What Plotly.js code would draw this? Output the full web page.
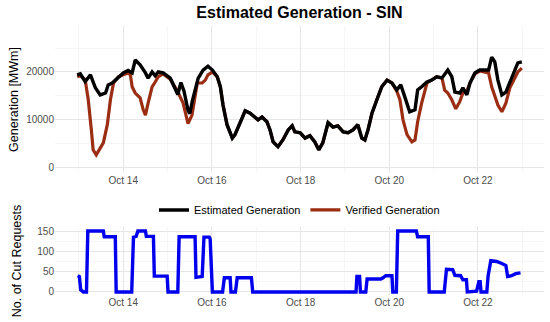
<!DOCTYPE html>
<html><head><meta charset="utf-8">
<script src="https://cdn.plot.ly/plotly-3.0.1.min.js"></script>
<style>html,body{margin:0;padding:0;background:#fff}#chart{width:550px;height:322px}</style>
</head><body><div id="chart"></div>
<script>
// Day of October (fractional) and values
const estDays = [12.96,13.03,13.14,13.26,13.37,13.48,13.60,13.66,13.75,13.87,14.00,14.11,14.20,14.27,14.38,14.50,14.56,14.65,14.72,14.79,14.90,15.06,15.17,15.23,15.30,15.37,15.46,15.50,15.56,15.69,15.80,15.91,16.01,16.12,16.19,16.25,16.34,16.46,16.52,16.64,16.75,16.86,16.97,17.04,17.13,17.24,17.31,17.38,17.49,17.60,17.72,17.81,17.87,17.99,18.10,18.21,18.32,18.41,18.50,18.62,18.73,18.84,18.96,19.07,19.18,19.29,19.38,19.45,19.52,19.61,19.72,19.83,19.95,20.06,20.17,20.26,20.35,20.46,20.58,20.64,20.73,20.85,20.96,21.07,21.19,21.25,21.32,21.41,21.48,21.59,21.66,21.75,21.82,21.93,22.04,22.15,22.24,22.31,22.38,22.45,22.54,22.63,22.72,22.83,22.90,22.99];
const estValues = [19400,19600,18000,19400,16700,15200,15600,17300,17700,18700,19800,20300,19800,22500,21500,19800,18700,20000,19200,20000,19800,18700,16500,15300,17800,16000,12000,11300,14000,18700,20400,21200,20400,19000,16900,13100,9000,6200,6900,9600,11900,11400,10600,10000,10600,9600,7900,5400,4400,5800,7900,8750,7500,7300,6200,6700,5400,3750,5200,9400,8500,8750,7500,7300,7900,9000,6200,5800,7900,11400,14200,16900,18300,17700,16250,17300,14800,11700,12100,16250,16900,17900,18300,19000,18750,19400,20400,19000,15800,15600,16700,15200,17700,19800,20400,20400,20400,23100,22100,18300,15200,15800,17700,20000,21900,22100];

const verDays = [12.96,13.03,13.14,13.21,13.28,13.32,13.39,13.48,13.55,13.64,13.71,13.78,13.89,14.00,14.11,14.16,14.20,14.27,14.38,14.45,14.50,14.56,14.65,14.72,14.79,14.90,15.06,15.22,15.35,15.46,15.55,15.67,15.78,15.85,15.91,16.01,16.12,16.19,16.25,16.34,16.46,16.52,16.64,16.75,16.86,16.97,17.04,17.13,17.24,17.31,17.38,17.49,17.60,17.72,17.81,17.87,17.99,18.10,18.21,18.32,18.41,18.50,18.62,18.73,18.84,18.96,19.07,19.18,19.29,19.38,19.45,19.52,19.61,19.72,19.83,19.95,20.06,20.17,20.24,20.31,20.40,20.51,20.58,20.64,20.73,20.85,20.96,21.07,21.19,21.25,21.32,21.41,21.50,21.59,21.66,21.75,21.82,21.93,22.04,22.15,22.24,22.31,22.38,22.45,22.54,22.63,22.72,22.83,22.90,22.99];
const verValues = [19000,19200,18400,14200,7900,3750,2700,4200,5200,9000,14200,17700,19000,19400,19800,19400,16900,15600,14600,12100,11000,13500,16900,17900,19000,19600,18500,16000,13500,9200,11000,17700,17700,18300,19400,20000,19000,16900,13100,9000,6200,6900,9600,11900,11400,10600,10000,10600,9600,7900,5400,4400,5800,7900,8750,7500,7300,6200,6700,5400,3750,5200,9400,8500,8750,7500,7300,7900,9000,6200,5800,7900,11400,14200,16900,18300,17700,16000,14200,10000,6900,5400,5800,9600,13500,17700,18300,19000,18700,16200,15600,14200,12300,13800,15600,16000,17700,19600,20200,20000,19800,16900,14800,13100,11700,13500,16700,18700,20000,20800];

const cutDays = [12.97,13.01,13.04,13.10,13.17,13.20,13.55,13.57,13.82,13.84,14.19,14.23,14.29,14.33,14.50,14.52,14.68,14.70,14.99,15.01,15.23,15.26,15.62,15.64,15.78,15.82,15.94,15.96,16.01,16.24,16.28,16.41,16.43,16.53,16.57,16.89,16.92,19.25,19.27,19.33,19.35,19.47,19.50,19.81,19.86,19.92,20.06,20.08,20.16,20.19,20.61,20.64,20.88,20.90,21.24,21.29,21.43,21.48,21.61,21.66,21.74,21.76,21.97,22.02,22.05,22.07,22.20,22.23,22.29,22.42,22.54,22.63,22.67,22.76,22.85,22.96];
const cutValues = [40,38,5,0,0,150,150,136,136,0,0,135,137,150,150,137,137,39,39,0,0,136,136,36,38,135,135,130,0,0,35,35,0,0,35,35,0,0,38,38,0,0,32,32,35,40,40,0,0,150,150,136,136,0,0,56,55,41,40,30,30,0,2,25,25,0,0,40,77,75,70,65,38,40,45,47];

const xTickStart = '2023-10-14';
const xMinorStart = '2023-10-13';

function toDate(d){
  const ms = Date.UTC(2023,9,1) + (d-1)*86400000;
  return new Date(ms).toISOString().slice(0,19).replace('T',' ');
}

const font = 'Liberation Sans, Arial, Helvetica, sans-serif';
const tickFont = {family: font, size: 10, color: '#4d4d4d'};
const titleFont = {family: font, size: 12.5, color: '#000'};
const xr = [toDate(12.46), toDate(23.49)];

const traces = [
  {x: verDays.map(toDate), y: verValues, type: 'scatter', mode: 'lines', name: 'Verified Generation',
   line: {color: '#9a2d12', width: 3.2}, xaxis: 'x', yaxis: 'y', legendrank: 2},
  {x: estDays.map(toDate), y: estValues, type: 'scatter', mode: 'lines', name: 'Estimated Generation',
   line: {color: '#000000', width: 3.4}, xaxis: 'x', yaxis: 'y', legendrank: 1},
  {x: cutDays.map(toDate), y: cutValues, type: 'scatter', mode: 'lines', name: 'Cut Requests',
   line: {color: '#0000ee', width: 3.4}, xaxis: 'x2', yaxis: 'y2', showlegend: false}
];

const xCommon = {
  type: 'date', range: xr, tickformat: '%b %d', dtick: 2*86400000, tick0: xTickStart,
  showgrid: true, gridcolor: '#e6e6e6', gridwidth: 1, zeroline: false, showline: false, ticks: '',
  tickfont: tickFont,
  minor: {dtick: 86400000, tick0: xMinorStart, showgrid: true, gridcolor: '#f0f0f0', gridwidth: 0.6}
};

const layout = {
  width: 550, height: 322,
  margin: {l: 55, r: 6, t: 0, b: 0},
  paper_bgcolor: '#fff', plot_bgcolor: '#fff',
  title: {text: '<b>Estimated Generation - SIN</b>', font: {family: font, size: 16, color: '#000'},
          x: 0.5, xref: 'paper', xanchor: 'center', y: 0.96, yref: 'container', yanchor: 'middle'},
  showlegend: true,
  legend: {orientation: 'h', x: 0.5, xanchor: 'center', y: 0.348, yanchor: 'middle',
           font: {family: font, size: 11, color: '#000'}, itemwidth: 30, bgcolor: 'rgba(0,0,0,0)'},
  xaxis: Object.assign({}, xCommon, {anchor: 'y'}),
  xaxis2: Object.assign({}, xCommon, {anchor: 'y2', matches: 'x'}),
  yaxis: {domain: [0.4627, 0.9193], range: [-1100, 29600], dtick: 10000, tick0: 0, tickformat: 'd',
          showgrid: true, gridcolor: '#e6e6e6', gridwidth: 1, zeroline: false, ticks: '',
          tickfont: tickFont, minor: {dtick: 5000, showgrid: true, gridcolor: '#f0f0f0', gridwidth: 0.6},
          title: {text: 'Generation [MWm]', font: titleFont, standoff: 4}},
  yaxis2: {domain: [0.0839, 0.295], range: [-7.5, 160], dtick: 50, tick0: 0,
           showgrid: true, gridcolor: '#e6e6e6', gridwidth: 1, zeroline: false, ticks: '',
           tickfont: tickFont, minor: {dtick: 25, showgrid: true, gridcolor: '#f0f0f0', gridwidth: 0.6},
           title: {text: 'No. of Cut Requests', font: titleFont, standoff: 12}}
};

Plotly.newPlot('chart', traces, layout, {displayModeBar: false, staticPlot: true});
</script></body></html>
